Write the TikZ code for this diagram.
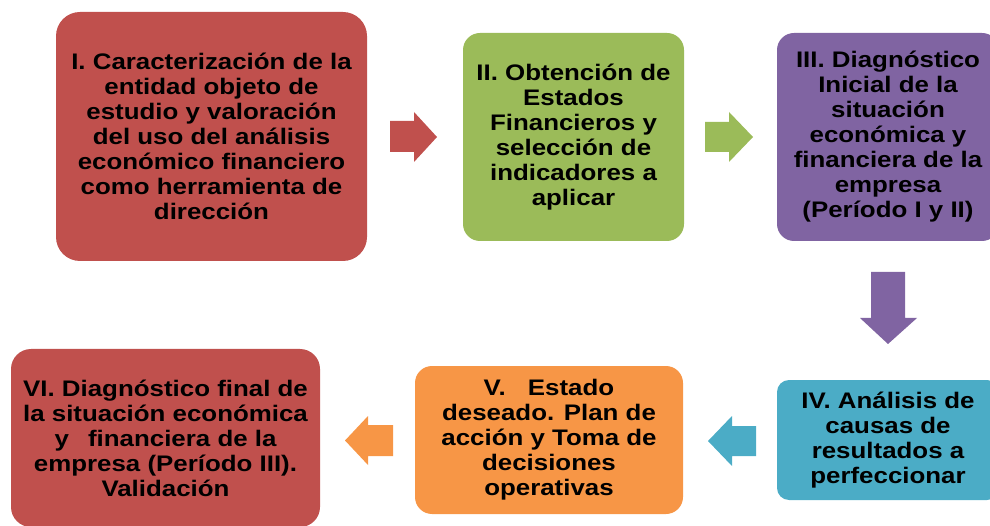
\documentclass[tikz,border=0pt]{standalone}
\usepackage{fontspec}
\newfontfamily\boxfont{Liberation Sans}[FakeStretch=1.15]
\definecolor{cred}{HTML}{C0504D}
\definecolor{cgreen}{HTML}{9BBB59}
\definecolor{cpurple}{HTML}{8064A2}
\definecolor{cteal}{HTML}{4BACC6}
\definecolor{corange}{HTML}{F79646}
\tikzset{
  stagebox/.style={draw=none, rectangle, align=center, inner sep=0pt, text=black,
    font=\boxfont\bfseries\fontsize{22.5}{25}\selectfont},
}
\begin{document}
\begin{tikzpicture}[x=1pt,y=-1pt]
\useasboundingbox (0,0) rectangle (990,526);
\clip (0,0) rectangle (990,526);
% boxes
\node[stagebox, fill=cred, rounded corners=24pt, minimum width=311pt, minimum height=249pt] (b1) at (211.5,136.5)
  {I. Caracterización de la\\entidad objeto de\\estudio y valoración\\del uso del análisis\\económico financiero\\como herramienta de\\dirección};
\node[stagebox, fill=cgreen, rounded corners=17pt, minimum width=221pt, minimum height=208pt] (b2) at (573.5,137)
  {II. Obtención de\\Estados\\Financieros y\\selección de\\indicadores a\\aplicar};
\node[stagebox, fill=cpurple, rounded corners=17pt, minimum width=222pt, minimum height=208pt] (b3) at (888,137)
  {III. Diagnóstico\\Inicial de la\\situación\\económica y\\financiera de la\\empresa\\(Período I y II)};
\node[stagebox, fill=cteal, rounded corners=12pt, minimum width=222pt, minimum height=120pt] (b4) at (888,440)
  {IV. Análisis de\\causas de\\resultados a\\perfeccionar};
\node[stagebox, fill=corange, rounded corners=17pt, minimum width=268pt, minimum height=148pt] (b5) at (549,440)
  {V.\hspace{15pt} Estado\\deseado. Plan de\\acción y Toma de\\decisiones\\operativas};
\node[stagebox, fill=cred, rounded corners=20pt, minimum width=309pt, minimum height=178pt] (b6) at (165.5,438)
  {VI. Diagnóstico final de\\la situación económica\\y\hspace{12pt} financiera de la\\empresa (Período III).\\Validación};
% block arrows
\fill[cred] (390,121) -- (414,121) -- (414,112) -- (437,137) -- (414,162) -- (414,152) -- (390,152) -- cycle;
\fill[cgreen] (705,122) -- (729,122) -- (729,112) -- (753,137) -- (729,162) -- (729,152) -- (705,152) -- cycle;
\fill[cpurple] (871,272) -- (905,272) -- (905,318) -- (917,318) -- (888,344) -- (860,318) -- (871,318) -- cycle;
\fill[cteal] (756,426) -- (732,426) -- (732,416) -- (708,441) -- (732,466) -- (732,456) -- (756,456) -- cycle;
\fill[corange] (393,425) -- (368,425) -- (368,416) -- (345,440.5) -- (368,465) -- (368,456) -- (393,456) -- cycle;
\end{tikzpicture}
\end{document}
